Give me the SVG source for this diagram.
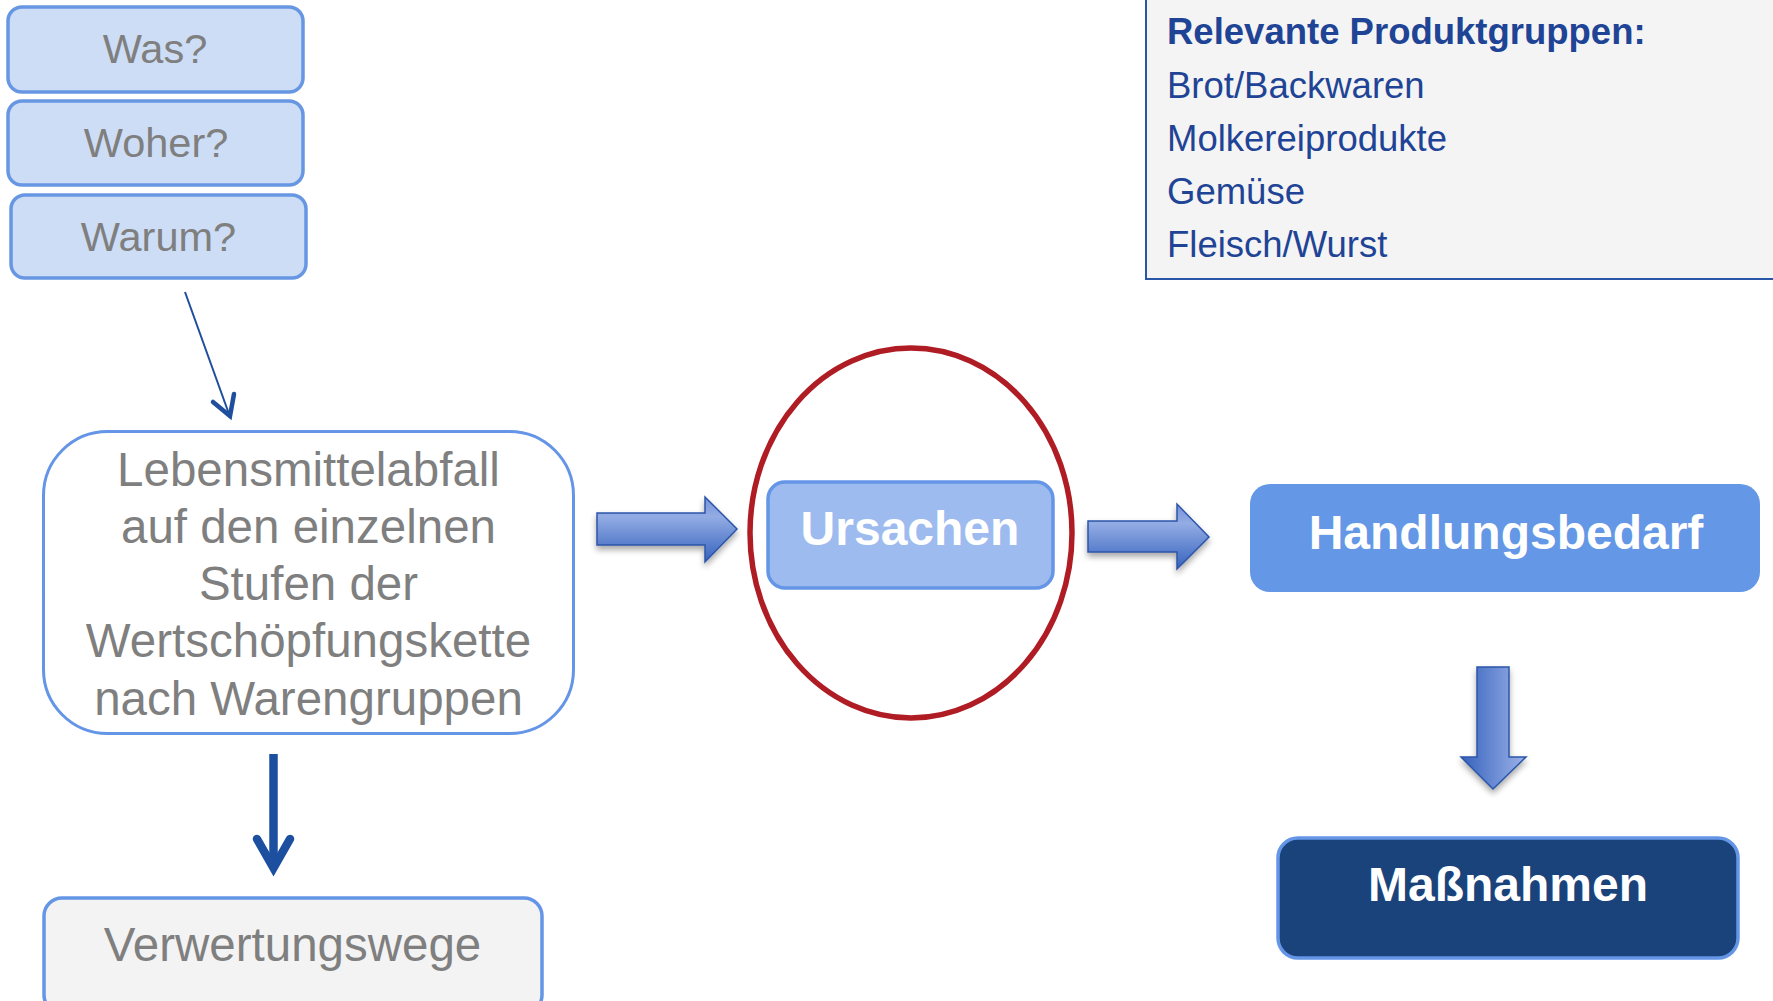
<svg xmlns="http://www.w3.org/2000/svg" width="1773" height="1001" viewBox="0 0 1773 1001">
<defs>
<style>
.q{fill:#cdddf5;stroke:#6797e3;stroke-width:3.5}
.qt{font-family:"Liberation Sans",Arial,sans-serif;font-size:41.5px;fill:#7f7f7f;text-anchor:middle}
.gt{font-family:"Liberation Sans",Arial,sans-serif;font-size:47.5px;fill:#7f7f7f;text-anchor:middle}
.wt{font-family:"Liberation Sans",Arial,sans-serif;font-size:48px;font-weight:bold;fill:#ffffff;text-anchor:middle}
.bt{font-family:"Liberation Sans",Arial,sans-serif;font-size:36.5px;fill:#1f4496}
.blk{stroke:#2b55a8;stroke-width:1.5;filter:url(#sh)}
</style>
<linearGradient id="gh" x1="0" y1="0" x2="0" y2="1">
<stop offset="0" stop-color="#7692d9"/>
<stop offset="0.3" stop-color="#93ace4"/>
<stop offset="1" stop-color="#3562bd"/>
</linearGradient>
<linearGradient id="gv" x1="0" y1="0" x2="1" y2="0">
<stop offset="0" stop-color="#3562bd"/>
<stop offset="1" stop-color="#9db3e8"/>
</linearGradient>
<filter id="sh" x="-20%" y="-20%" width="140%" height="150%">
<feGaussianBlur in="SourceAlpha" stdDeviation="3"/>
<feOffset dx="0" dy="4" result="b"/>
<feComponentTransfer><feFuncA type="linear" slope="0.35"/></feComponentTransfer>
<feMerge><feMergeNode/><feMergeNode in="SourceGraphic"/></feMerge>
</filter>
</defs>
<rect width="1773" height="1001" fill="#ffffff"/>

<g id="produktgruppen">
<rect x="1146" y="-10" width="640" height="289" fill="#f4f4f4" stroke="#2a56a8" stroke-width="2"/>
<text class="bt" x="1167" y="44" font-weight="bold" font-size="37.5px">Relevante Produktgruppen:</text>
<text class="bt" x="1167" y="97.5">Brot/Backwaren</text>
<text class="bt" x="1167" y="151">Molkereiprodukte</text>
<text class="bt" x="1167" y="204">Gemüse</text>
<text class="bt" x="1167" y="257">Fleisch/Wurst</text>
</g>

<g id="was">
<rect class="q" x="8" y="7" width="295" height="85" rx="14"/>
<text class="qt" x="155" y="63">Was?</text>
</g>
<g id="woher">
<rect class="q" x="8" y="101" width="295" height="84" rx="14"/>
<text class="qt" x="156" y="156.5">Woher?</text>
</g>
<g id="warum">
<rect class="q" x="11" y="195" width="295" height="83" rx="14"/>
<text class="qt" x="158.5" y="250.5">Warum?</text>
</g>

<g id="lebensmittelabfall">
<rect x="43.5" y="431.5" width="530" height="302" rx="64" fill="#ffffff" stroke="#6495e6" stroke-width="3"/>
<text class="gt" x="308.5" y="485.5">Lebensmittelabfall</text>
<text class="gt" x="308.5" y="542.5">auf den einzelnen</text>
<text class="gt" x="308.5" y="600">Stufen der</text>
<text class="gt" x="308.5" y="657">Wertschöpfungskette</text>
<text class="gt" x="308.5" y="714.5">nach Warengruppen</text>
</g>

<g id="verwertungswege">
<rect x="44" y="898" width="498" height="115" rx="18" fill="#f3f3f3" stroke="#6495e6" stroke-width="3.5"/>
<text class="gt" x="292.5" y="960.5">Verwertungswege</text>
</g>

<g id="ursachen">
<ellipse cx="911" cy="533" rx="161" ry="185" fill="none" stroke="#af1c24" stroke-width="5.5"/>
<rect x="768" y="482" width="285" height="106" rx="17" fill="#9dbbee" stroke="#6495e6" stroke-width="3.5"/>
<text class="wt" x="910" y="545">Ursachen</text>
</g>

<g id="handlungsbedarf">
<rect x="1250" y="484" width="510" height="108" rx="20" fill="#6497e5"/>
<text class="wt" x="1506" y="549">Handlungsbedarf</text>
</g>

<g id="massnahmen">
<rect x="1278" y="838" width="460" height="120" rx="20" fill="#1a437c" stroke="#6495e6" stroke-width="3.5"/>
<text class="wt" x="1508" y="901">Maßnahmen</text>
</g>

<g id="connectors">
<line x1="185" y1="292" x2="229" y2="414" stroke="#1f4e9c" stroke-width="2"/>
<polyline points="213,402 230,416 234,394" fill="none" stroke="#1f4e9c" stroke-width="4.5" stroke-linecap="round" stroke-linejoin="miter"/>
<line x1="273.5" y1="754" x2="273.5" y2="866" stroke="#1c4f9f" stroke-width="8.5"/>
<polyline points="257,839 273.5,868 290,839" fill="none" stroke="#1c4f9f" stroke-width="8.5" stroke-linecap="round" stroke-linejoin="miter"/>
<path class="blk" d="M597,513 H705 V497 L737,529 L705,562 V545 H597 Z" fill="url(#gh)"/>
<path class="blk" d="M1088,521 H1177 V504 L1209,537 L1177,569 V552 H1088 Z" fill="url(#gh)"/>
<path class="blk" d="M1477,667 H1509 V757 H1526 L1493,789 L1461,757 H1477 Z" fill="url(#gv)"/>
</g>
</svg>
